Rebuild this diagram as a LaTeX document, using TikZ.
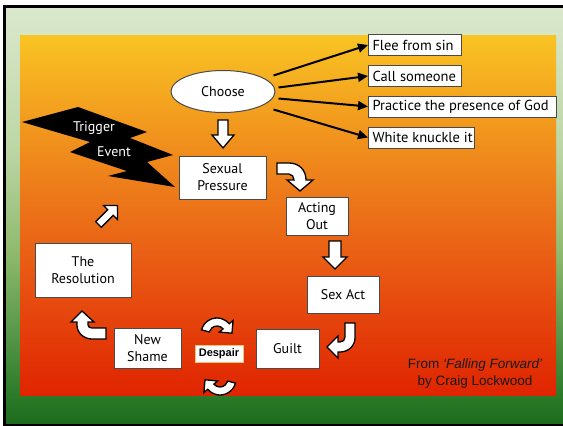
\documentclass[tikz,border=0pt]{standalone}
\usepackage{fontspec}
\setmainfont{PT Sans}
\newfontfamily\arialfont{Liberation Sans}
\usetikzlibrary{shapes.geometric,arrows.meta,calc}

% background colours
\definecolor{gA}{HTML}{DBE8CD}
\definecolor{gB}{HTML}{BCD6A4}
\definecolor{gC}{HTML}{8FBA6E}
\definecolor{gD}{HTML}{58984A}
\definecolor{gE}{HTML}{2A7A28}
\definecolor{gF}{HTML}{1D6A1D}
\definecolor{oA}{HTML}{F9C423}
\definecolor{oB}{HTML}{F29A1E}
\definecolor{oC}{HTML}{EC7619}
\definecolor{oD}{HTML}{E85412}
\definecolor{oE}{HTML}{E02400}
\definecolor{boxline}{HTML}{4A4A4A}

\pgfdeclareverticalshading{greenbg}{100bp}{color(0bp)=(gF); color(25bp)=(gF); color(28.5bp)=(gE); color(36.2bp)=(gD); color(45.8bp)=(gC); color(57.8bp)=(gB); color(75bp)=(gA); color(100bp)=(gA)}
\pgfdeclareverticalshading{orangebg}{100bp}{color(0bp)=(oE); color(25bp)=(oE); color(41bp)=(oD); color(52bp)=(oC); color(63bp)=(oB); color(75bp)=(oA); color(100bp)=(oA)}

% left-set label of a fixed width
\newcommand{\optlabel}[2]{\makebox[#1][l]{#2}}

\begin{document}
\begin{tikzpicture}[x=1pt,y=-1pt,
  box/.style={draw=boxline, line width=1pt, fill=white, align=center, inner sep=0pt,
    font=\fontsize{14}{17}\selectfont},
  optbox/.style={draw=boxline, line width=1pt, fill=white, anchor=west, inner xsep=4pt, inner ysep=0pt,
    minimum height=21pt, font=\fontsize{14.5}{16}\selectfont},
  optline/.style={line width=2pt, -{Triangle[length=10pt,width=9pt]}},
  blockarrow/.style={draw=black, fill=white, line width=1.3pt, line join=miter},
  whitetext/.style={text=white, font=\fontsize{14}{16}\selectfont, inner sep=0pt}]

\useasboundingbox (0,0) rectangle (563,426);

% outer frame and coloured panel
\fill[white] (0,0) rectangle (563,426);
\shade[shading=greenbg] (4.5,6.5) rectangle (575,425.5);
\draw[black, line width=3pt] (575,6.5) -- (4.5,6.5) -- (4.5,425.5) -- (575,425.5);
\shade[shading=orangebg] (20,35) rectangle (556,395);

% trigger bolt
\fill[black] (22,122) -- (78,107) -- (147,132) -- (130,138) -- (173,155) -- (147,162)
  -- (175,187) -- (108,176) -- (127,171) -- (70,152) -- (90,142) -- cycle;
\node[whitetext] (trig) at (94,128) {Trigger};
\node[whitetext] (evt) at (114,152) {Event};

% choice and the four responses
\node[draw=boxline, line width=1pt, fill=white, ellipse, minimum width=104pt, minimum height=42pt,
  inner sep=0pt, font=\fontsize{14}{16}\selectfont] (choose) at (223,91.5) {Choose};
\node[optbox] (flee) at (368,45) {\optlabel{85pt}{Flee from sin}};
\node[optbox] (call) at (368,76) {\optlabel{85pt}{Call someone}};
\node[optbox] (practice) at (368,106.5) {\optlabel{180pt}{Practice the presence of God}};
\node[optbox] (knuckle) at (368,137.5) {\optlabel{98pt}{White knuckle it}};

\draw[optline] ([shift={(-2,-16)}]choose.east) -- (flee.west);
\draw[optline] ([shift={(3,-4)}]choose.east) -- (call.west);
\draw[optline] ([shift={(3,7)}]choose.east) -- (practice.west);
\draw[optline] ([shift={(-2,18)}]choose.east) -- (knuckle.west);

% the cycle
\node[box, minimum width=87pt, minimum height=43pt] (sp) at (222.5,177.5) {Sexual\\Pressure};
\node[box, minimum width=62pt, minimum height=38pt] (ao) at (317,216) {Acting\\Out};
\node[box, minimum width=72pt, minimum height=37pt] (sa) at (343,294.5) {Sex Act};
\node[box, minimum width=63pt, minimum height=39pt] (guilt) at (287.5,348.5) {Guilt};
\node[box, minimum width=67pt, minimum height=40pt] (ns) at (147.5,348) {New\\Shame};
\node[box, minimum width=96pt, minimum height=54pt] (res) at (83,270) {The\\Resolution};
\node[fill=white, draw=oB!60!white, line width=0.6pt, minimum width=48pt, minimum height=17pt,
  inner sep=0pt, font=\arialfont\bfseries\fontsize{11}{12}\selectfont] (despair) at (219,353.5) {Despair};

% block arrows between the stages
\draw[blockarrow] (218,120) -- (228,120) -- (228,135) -- (234,135) -- (223,148) -- (212,135)
  -- (218,135) -- cycle;
\draw[blockarrow] (277,163) -- (289,163) .. controls (299,163) and (306,170) .. (306,180)
  -- (313,180) -- (300,191) -- (287,180) -- (294,180) .. controls (294,177) and (292,174) .. (289,174)
  -- (277,174) -- cycle;
\draw[blockarrow] (329,241) -- (341,241) -- (341,257) -- (347,257) -- (335,269) -- (323,257)
  -- (329,257) -- cycle;
\draw[blockarrow] (345,323) -- (355,323) -- (355,338) .. controls (355,346) and (348,352) .. (340,352)
  -- (338,352) -- (338,358) -- (327,347) -- (338,336) -- (338,342) -- (340,342)
  .. controls (343,342) and (345,340) .. (345,337) -- cycle;
\draw[blockarrow] (106,328) -- (106,339) -- (92,339) .. controls (84,339) and (77,333) .. (77,325)
  -- (77,322) -- (71,322) -- (82,311) -- (94,322) -- (88,322) -- (88,325)
  .. controls (88,327) and (90,328) .. (92,328) -- cycle;
\begin{scope}[shift={(98.5,224.5)}, rotate=45]
  \draw[blockarrow] (0,-4) -- (17,-4) -- (17,-10) -- (27,0) -- (17,10) -- (17,4) -- (0,4) -- cycle;
\end{scope}

% the two turning arrows around Despair
\coordinate (dc) at (217,334);
\draw[blockarrow] ($(dc)+(195:16)$) arc[start angle=195, end angle=320, radius=16]
  -- ($(dc)+(320:21)$) -- ($(dc)+(320:12)+(50:9)$) -- ($(dc)+(320:3)$) -- ($(dc)+(320:8)$)
  arc[start angle=320, end angle=195, radius=8] -- cycle;
\begin{scope}[rotate around={180:(218.5,356.5)}]
\coordinate (dd) at (217,334);
\draw[blockarrow] ($(dd)+(195:16)$) arc[start angle=195, end angle=320, radius=16]
  -- ($(dd)+(320:21)$) -- ($(dd)+(320:12)+(50:9)$) -- ($(dd)+(320:3)$) -- ($(dd)+(320:8)$)
  arc[start angle=320, end angle=195, radius=8] -- cycle;
\end{scope}

% source note
\node[font=\arialfont\fontsize{13.5}{17}\selectfont, text=black!90, align=center, inner sep=0pt]
  (src) at (475,374) {From \textit{‘Falling Forward’}\\by Craig Lockwood};

\end{tikzpicture}
\end{document}
